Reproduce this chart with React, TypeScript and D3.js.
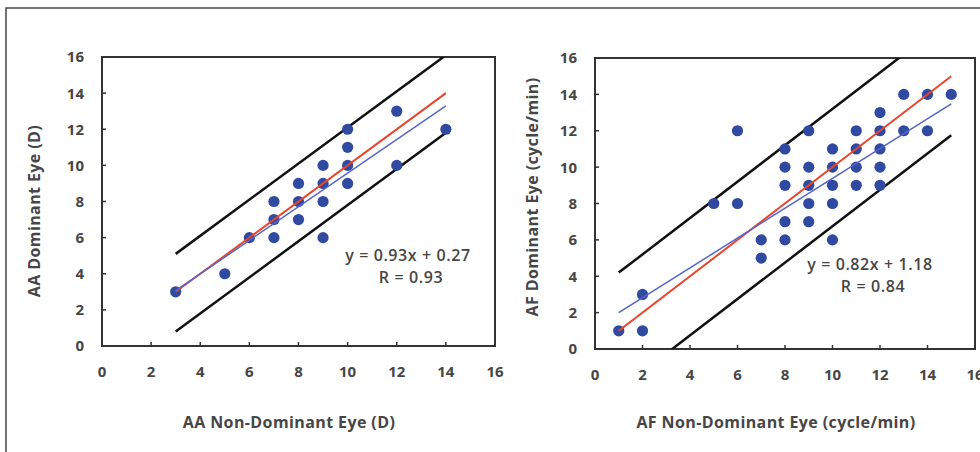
import React from 'react';
import * as d3 from 'd3';

// AA panel (accommodative amplitude, D)
const aaX = [3, 5, 6, 7, 7, 7, 8, 8, 8, 9, 9, 9, 9, 10, 10, 10, 10, 12, 12, 14];
const aaY = [3, 4, 6, 8, 7, 6, 9, 8, 7, 10, 9, 8, 6, 12, 11, 10, 9, 13, 10, 12];
const aaFit = { slope: 0.93, intercept: 0.27 };
const aaBand = [2.1, -2.2];

// AF panel (accommodative facility, cycle/min)
const afX = [1, 2, 2, 5, 6, 6, 7, 7, 8, 8, 8, 8, 8, 9, 9, 9, 9, 9, 10, 10, 10, 10, 10, 11, 11, 11, 11, 12, 12, 12, 12, 12, 13, 13, 14, 14, 15];
const afY = [1, 3, 1, 8, 12, 8, 6, 5, 11, 10, 9, 7, 6, 12, 10, 9, 8, 7, 11, 10, 9, 8, 6, 12, 11, 10, 9, 13, 12, 11, 10, 9, 14, 12, 14, 12, 14];
const afFit = { slope: 0.82, intercept: 1.18 };
const afBand = [3.2, -3.25];

const axisTicks = [0, 2, 4, 6, 8, 10, 12, 14, 16];

const FONT = '"Open Sans", Lato, sans-serif';
const TEXT = '#464646';

type PanelProps = {
    xs: number[];
    ys: number[];
    fit: { slope: number; intercept: number };
    band: number[];
    box: { left: number; right: number; top: number; bottom: number };
    xTitle: string;
    xTitleX: number;
    yTitle: string;
    yTitleX: number;
    yTitleY: number;
    eq: string;
    r: string;
    eqPos: [number, number];
    id: string;
};

function Panel(props: PanelProps) {
    const { xs, ys, fit, band, box, id } = props;
    const x = d3.scaleLinear().domain([0, 16]).range([box.left, box.right]);
    const y = d3.scaleLinear().domain([0, 16]).range([box.bottom, box.top]);
    const [x0, x1] = d3.extent(xs) as [number, number];
    const line = d3.line<number[]>().x(d => x(d[0])).y(d => y(d[1]));
    const seg = (f: (v: number) => number) => line([[x0, f(x0)], [x1, f(x1)]]) || '';

    return (
        <g>
            <defs>
                <clipPath id={`clip-${id}`}>
                    <rect x={box.left} y={box.top} width={box.right - box.left} height={box.bottom - box.top} />
                </clipPath>
            </defs>
            <rect x={box.left} y={box.top} width={box.right - box.left} height={box.bottom - box.top}
                fill="none" stroke="#333" strokeWidth={2} />
            {axisTicks.map(t => (
                <g key={`x${t}`}>
                    <line x1={x(t)} x2={x(t)} y1={box.bottom} y2={box.bottom - 4} stroke="#333" strokeWidth={1.5} />
                    <text x={x(t)} y={box.bottom + 31} textAnchor="middle" fontSize={15} fontWeight={700}
                        fill={TEXT} fontFamily={FONT}>{t}</text>
                </g>
            ))}
            {axisTicks.map(t => (
                <g key={`y${t}`}>
                    <line x1={box.left} x2={box.left + 4} y1={y(t)} y2={y(t)} stroke="#333" strokeWidth={1.5} />
                    <text x={box.left - 18} y={y(t)} dy="0.36em" textAnchor="end" fontSize={15} fontWeight={700}
                        fill={TEXT} fontFamily={FONT}>{t}</text>
                </g>
            ))}
            <g clipPath={`url(#clip-${id})`}>
                {band.map((b, i) => (
                    <path key={i} d={seg(v => v + b)} stroke="#111" strokeWidth={2.5} fill="none" />
                ))}
                {xs.map((v, i) => (
                    <circle key={i} cx={x(v)} cy={y(ys[i])} r={5.6} fill="#2f4aa0" />
                ))}
                <path d={seg(v => v)} stroke="#e8452c" strokeWidth={2} fill="none" />
                <path d={seg(v => fit.slope * v + fit.intercept)} stroke="#5565cc" strokeWidth={1.5} fill="none" />
            </g>
            <text x={props.eqPos[0]} y={props.eqPos[1]} textAnchor="middle" fontSize={16} fontWeight={600}
                letterSpacing={0.6} fill={TEXT} fontFamily={FONT}>{props.eq}</text>
            <text x={props.eqPos[0] + 3} y={props.eqPos[1] + 22} textAnchor="middle" fontSize={16} fontWeight={600}
                letterSpacing={0.6} fill={TEXT} fontFamily={FONT}>{props.r}</text>
            <text x={props.xTitleX} y={428} textAnchor="middle" fontSize={16} fontWeight={700}
                letterSpacing={0.4} fill={TEXT} fontFamily={FONT}>{props.xTitle}</text>
            <text transform={`translate(${props.yTitleX},${props.yTitleY}) rotate(-90)`} textAnchor="middle"
                fontSize={16} fontWeight={700} letterSpacing={0.4} fill={TEXT} fontFamily={FONT}>{props.yTitle}</text>
        </g>
    );
}

export default function App() {
    return (
        <svg width={980} height={452} style={{ position: 'absolute', left: 0, top: 0, background: '#fff' }}>
            <rect x={6} y={8} width={1000} height={500} fill="#fff" stroke="#444" strokeWidth={1.5} />
            <Panel id="aa" xs={aaX} ys={aaY} fit={aaFit} band={aaBand}
                box={{ left: 102, right: 495, top: 57, bottom: 346 }}
                xTitle="AA Non-Dominant Eye (D)" xTitleX={289}
                yTitle="AA Dominant Eye (D)" yTitleX={40} yTitleY={211}
                eq="y = 0.93x + 0.27" r="R = 0.93" eqPos={[408, 261]} />
            <Panel id="af" xs={afX} ys={afY} fit={afFit} band={afBand}
                box={{ left: 595, right: 975, top: 58, bottom: 349 }}
                xTitle="AF Non-Dominant Eye (cycle/min)" xTitleX={776}
                yTitle="AF Dominant Eye (cycle/min)" yTitleX={538} yTitleY={197}
                eq="y = 0.82x + 1.18" r="R = 0.84" eqPos={[870, 270]} />
        </svg>
    );
}
